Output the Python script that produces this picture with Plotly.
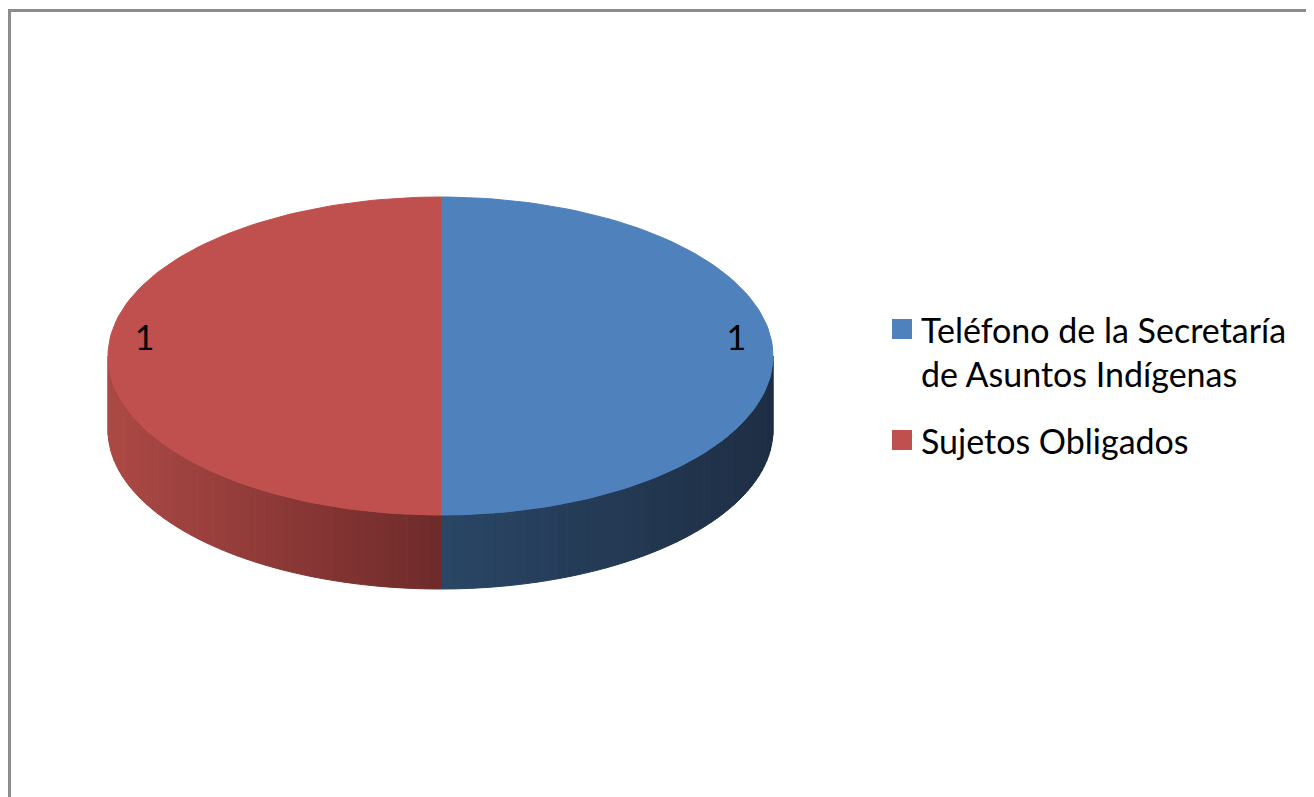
import textwrap

import numpy as np
import plotly.graph_objects as go

# Data
categories = ["Teléfono de la Secretaría de Asuntos Indígenas", "Sujetos Obligados"]
values = [1, 1]
top_colors = ["#4F81BD", "#C0504D"]
# side shading: colour next to the front (6 o'clock) and at the outer rim
side_front = [(42, 70, 102), (110, 42, 42)]
side_outer = [(30, 46, 68), (172, 73, 69)]

W, H = 1314, 797
OFF = 8                    # page body margin, so coords match the screen
CX, CY = 440.5, 356.0      # centre of the top face (px)
RX, RY = 332.5, 159.0      # ellipse radii
DEPTH = 74.0               # thickness of the pie
FONT = "Lato, 'Open Sans', sans-serif"
FSIZE = 34


def pt(theta, dy=0.0):
    """Point on the ellipse, theta in degrees clockwise from 12 o'clock."""
    t = np.radians(theta)
    return CX + RX * np.sin(t), CY - RY * np.cos(t) + dy


def mix(c0, c1, f):
    return "rgb({},{},{})".format(*[int(round(a + (b - a) * f)) for a, b in zip(c0, c1)])


fig = go.Figure()

total = float(sum(values))
angles = np.cumsum([0] + [v / total * 360 for v in values])

# side walls first (only the front half is visible)
for i in range(len(values)):
    a0, a1 = max(angles[i], 90), min(angles[i + 1], 270)
    if a1 <= a0:
        continue
    n = 48
    edges = np.linspace(a0, a1, n + 1)
    for k in range(n):
        th = np.linspace(edges[k], edges[k + 1], 4)
        xt, yt = pt(th)
        xb, yb = pt(th[::-1], DEPTH)
        mid = (edges[k] + edges[k + 1]) / 2
        f = abs(np.sin(np.radians(mid)))
        col = mix(side_front[i], side_outer[i], f)
        fig.add_trace(go.Scatter(
            x=np.concatenate([xt, xb, xt[:1]]),
            y=np.concatenate([yt, yb, yt[:1]]),
            mode="lines", fill="toself", fillcolor=col,
            line=dict(color=col, width=1),
            hoverinfo="skip", showlegend=False,
        ))

# top faces
for i in range(len(values)):
    th = np.linspace(angles[i], angles[i + 1], 120)
    xs, ys = pt(th)
    fig.add_trace(go.Scatter(
        x=np.concatenate([[CX], xs, [CX]]),
        y=np.concatenate([[CY], ys, [CY]]),
        mode="lines", fill="toself", fillcolor=top_colors[i],
        line=dict(color=top_colors[i], width=1),
        name=categories[i], hoverinfo="skip", showlegend=False,
    ))

# data labels
mids = (angles[:-1] + angles[1:]) / 2
lx = [CX + 0.89 * RX * np.sin(np.radians(m)) for m in mids]
ly = [CY - 0.89 * RY * np.cos(np.radians(m)) - 15 for m in mids]
fig.add_trace(go.Scatter(
    x=lx, y=ly, mode="text", text=[str(v) for v in values],
    textposition="middle center",
    textfont=dict(family=FONT, size=FSIZE, color="#000000"),
    hoverinfo="skip", showlegend=False,
))

# legend (drawn by hand so it wraps like the original)
LEG_X, LEG_Y0, LINE_H, ITEM_GAP = 902, 329, 44, 67
y = LEG_Y0
for i, name in enumerate(categories):
    lines = textwrap.wrap(name, width=25)
    fig.add_trace(go.Scatter(
        x=[LEG_X], y=[y], mode="markers",
        marker=dict(symbol="square", size=20, color=top_colors[i],
                    line=dict(width=0)),
        hoverinfo="skip", showlegend=False,
    ))
    for j, ln in enumerate(lines):
        fig.add_annotation(
            x=LEG_X + 17, y=y + j * LINE_H, text=ln, showarrow=False,
            xanchor="left", yanchor="middle",
            font=dict(family=FONT, size=FSIZE, color="#000000"),
        )
    y += (len(lines) - 1) * LINE_H + ITEM_GAP

# chart area border (runs off the right and bottom edges)
fig.add_shape(type="rect", x0=9.5, y0=10.5, x1=W + 30, y1=H + 30,
              line=dict(color="#8C8C8C", width=3), layer="below")

fig.update_layout(
    width=W, height=H, autosize=False,
    margin=dict(l=0, r=0, t=0, b=0),
    paper_bgcolor="white", plot_bgcolor="white",
    xaxis=dict(range=[OFF, W + OFF], visible=False, fixedrange=True),
    yaxis=dict(range=[H + OFF, OFF], visible=False, fixedrange=True),
    showlegend=False,
)

fig.write_html("out.html")
